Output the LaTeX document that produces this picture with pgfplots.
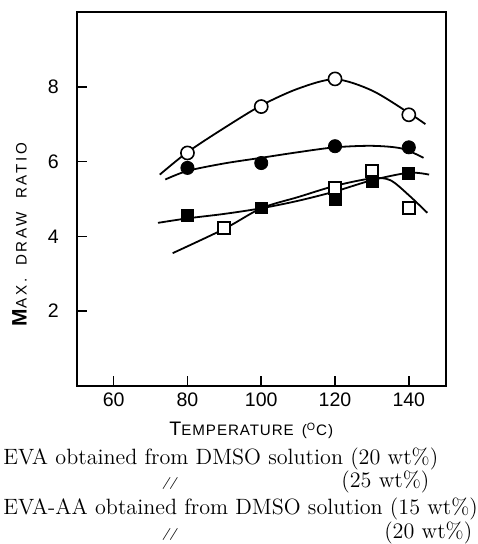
\documentclass[border=0pt]{standalone}
\usepackage{fontspec}
\setsansfont{Liberation Sans}
\usepackage{pgfplots}
\pgfplotsset{compat=1.18}

% measured points
\pgfplotstableread{
x y
80 6.23
100 7.47
120 8.21
140 7.25
}\opencirc
\pgfplotstableread{
x y
80 5.83
100 5.96
120 6.41
140 6.38
}\fillcirc
\pgfplotstableread{
x y
90 4.23
120 5.30
130 5.74
140 4.75
}\opensq
\pgfplotstableread{
x y
80 4.56
100 4.76
120 5.00
130 5.47
140 5.68
}\fillsq

\begin{document}
\begin{tikzpicture}
\begin{axis}[
  scale only axis, width=185pt, height=187.5pt,
  xmin=50, xmax=150, ymin=0, ymax=10,
  xtick={60,80,100,120,140}, ytick={2,4,6,8},
  tick align=inside, xtick pos=bottom, ytick pos=left,
  axis line style={line width=1.2pt},
  major tick style={line width=0.8pt, black},
  major tick length=5pt,
  ticklabel style={font=\sffamily\fontsize{9.8}{12}\selectfont},
  yticklabel style={xshift=-5.5pt},
  /pgf/number format/assume math mode=true,
  clip=false,
]
% hand-drawn curves
\addplot[smooth, line width=0.9pt] coordinates {
(72.5,5.65) (80,6.25) (90,6.9) (100,7.5) (110,7.95) (120,8.2) (130,7.9) (140,7.3) (144.5,7.0)};
\addplot[smooth, line width=0.9pt] coordinates {
(74,5.52) (80,5.75) (90,5.95) (100,6.1) (110,6.25) (120,6.38) (130,6.42) (138,6.35) (144,6.1)};
\addplot[smooth, line width=0.9pt] coordinates {
(76,3.55) (90,4.2) (100,4.75) (110,5.05) (120,5.35) (130,5.55) (135,5.5) (140,5.1) (145,4.63)};
\addplot[smooth, line width=0.9pt] coordinates {
(72,4.36) (80,4.48) (90,4.6) (100,4.75) (110,4.95) (120,5.2) (130,5.5) (140,5.7) (145.5,5.65)};

\addplot[only marks, mark=*, mark size=3.3pt, mark options={fill=white, draw=black, line width=0.8pt}] table {\opencirc};
\addplot[only marks, mark=*, mark size=3.3pt, mark options={fill=black, draw=black}] table {\fillcirc};
\addplot[only marks, mark=square*, mark size=3pt, mark options={fill=white, draw=black, line width=0.9pt}] table {\opensq};
\addplot[only marks, mark=square*, mark size=3pt, mark options={fill=black, draw=black}] table {\fillsq};

\coordinate (O) at (rel axis cs:0,0);
\node[rotate=90, font=\sffamily\fontsize{10.5}{12}\selectfont] at (rel axis cs:-0.155,0.405)
  {\textbf{M}{\fontsize{7.6}{10}\selectfont\addfontfeatures{LetterSpace=18}AX.\hspace{3pt} DRAW\hspace{3pt} RATIO}};
\node[font=\sffamily\fontsize{9.8}{12}\selectfont] at (rel axis cs:0.473,-0.12)
  {T{\fontsize{7.6}{10}\selectfont\addfontfeatures{LetterSpace=6}EMPERATURE\hspace{1.5pt} (\textsuperscript{O}C)}};
\end{axis}

\begin{scope}[every node/.style={inner sep=0pt, font=\fontsize{11.1}{13}\selectfont}]
\node[anchor=base west] at ([shift={(-37pt,-39.5pt)}]O) {EVA obtained from DMSO solution (20 wt\%)};
\node[anchor=base] at ([shift={(46.5pt,-50.5pt)}]O) {\fontsize{6}{6}\selectfont\bfseries\itshape //};
\node[anchor=base east] at ([shift={(177pt,-51pt)}]O) {(25 wt\%)};
\node[anchor=base west] at ([shift={(-37pt,-64.5pt)}]O) {EVA-AA obtained from DMSO solution (15 wt\%)};
\node[anchor=base] at ([shift={(46.5pt,-76pt)}]O) {\fontsize{6}{6}\selectfont\bfseries\itshape //};
\node[anchor=base east] at ([shift={(198.5pt,-76.5pt)}]O) {(20 wt\%)};
\end{scope}
\path ([shift={(-38.5pt,-78.5pt)}]O) rectangle ([shift={(199.5pt,193.5pt)}]O);
\end{tikzpicture}
\end{document}
